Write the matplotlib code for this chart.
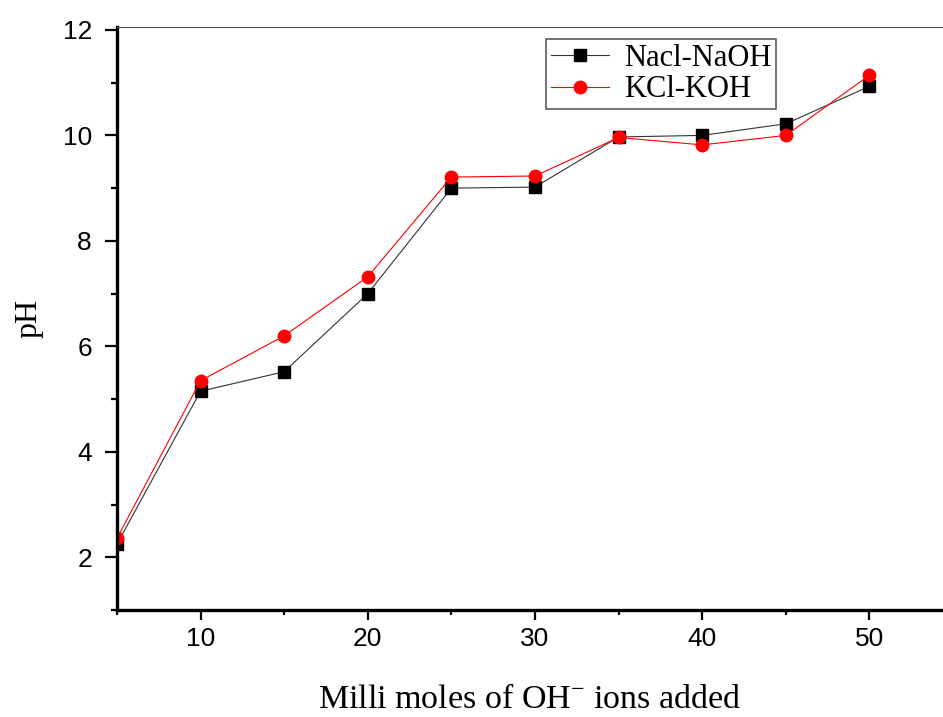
import matplotlib
matplotlib.use('Agg')
import matplotlib.pyplot as plt
from matplotlib.ticker import MultipleLocator

# data
oh_added = [5, 10, 15, 20, 25, 30, 35, 40, 45, 50]
ph_nacl = [2.25, 5.15, 5.52, 7.0, 9.0, 9.02, 9.97, 10.0, 10.22, 10.93]
ph_kcl = [2.36, 5.35, 6.2, 7.32, 9.21, 9.23, 9.96, 9.82, 10.0, 11.14]

series_labels = ['Nacl-NaOH', 'KCl-KOH']
xticks = [10, 20, 30, 40, 50]
yticks = [2, 4, 6, 8, 10, 12]

plt.rcParams['mathtext.fontset'] = 'custom'
plt.rcParams['mathtext.rm'] = 'Liberation Serif'
plt.rcParams['mathtext.default'] = 'regular'


def titration_plot():
    fig = plt.figure(figsize=(9.43, 7.17), dpi=100)
    ax = fig.add_axes([0.124, 0.149, 0.876, 0.813])

    ax.plot(oh_added, ph_nacl, color='#333333', lw=0.8, marker='s', ms=9,
            mfc='black', mec='black', label=series_labels[0])
    ax.plot(oh_added, ph_kcl, color='red', lw=0.8, marker='o', ms=9,
            mfc='red', mec='red', label=series_labels[1])

    ax.set_xlim(5, 54.4)
    ax.set_ylim(1, 12.05)
    ax.set_xticks(xticks)
    ax.set_yticks(yticks)
    ax.xaxis.set_minor_locator(MultipleLocator(5))
    ax.yaxis.set_minor_locator(MultipleLocator(1))

    # origin-style axes: heavy left/bottom, thin top, no right
    ax.spines['left'].set_linewidth(2.4)
    ax.spines['bottom'].set_linewidth(2.4)
    ax.spines['top'].set_linewidth(0.8)
    ax.spines['top'].set_color('#555555')
    ax.spines['right'].set_visible(False)

    ax.tick_params(axis='both', which='both', direction='out', width=1.6,
                   top=False, right=False)
    ax.tick_params(axis='y', which='major', length=9, pad=9)
    ax.tick_params(axis='y', which='minor', length=4.5)
    ax.tick_params(axis='x', which='major', length=7, pad=5)
    ax.tick_params(axis='x', which='minor', length=3.5)
    for lab in ax.get_xticklabels() + ax.get_yticklabels():
        lab.set_fontfamily('Liberation Sans')
        lab.set_fontsize(19)

    ax.set_xlabel(r'Milli moles of OH$^{-}$ ions added', family='Liberation Serif',
                  fontsize=24.5, labelpad=24)
    ax.set_ylabel('pH', family='Liberation Serif', fontsize=23, labelpad=14)

    leg = ax.legend(loc='upper left', bbox_to_anchor=(0.512, 0.99),
                    prop={'family': 'Liberation Serif', 'size': 22},
                    frameon=True, fancybox=False, edgecolor='#333333',
                    handlelength=1.9, borderpad=0.15, labelspacing=0.08,
                    handletextpad=0.5, borderaxespad=0.2)
    leg.get_frame().set_linewidth(1.2)

    fig.savefig('out.png', dpi=100)


if __name__ == '__main__':
    titration_plot()
